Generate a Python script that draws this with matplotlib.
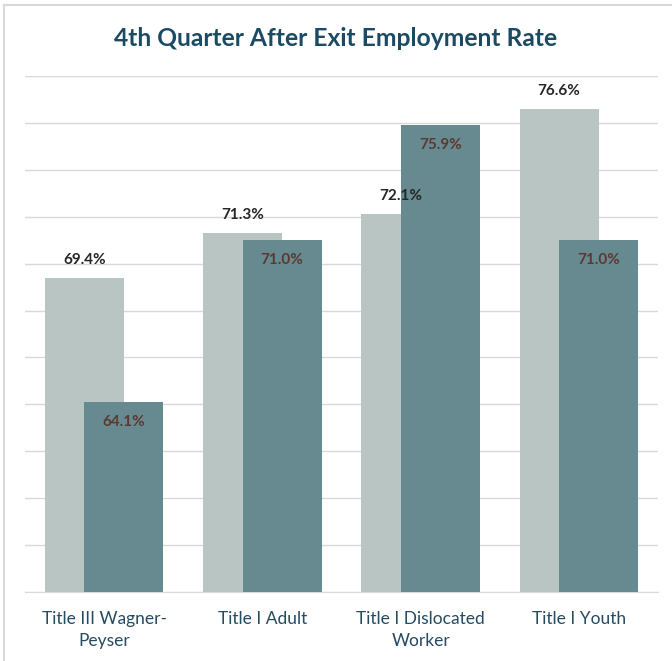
import matplotlib.pyplot as plt
import numpy as np
from matplotlib.lines import Line2D

# Taxas de emprego no 4º trimestre após a saída, por programa
programas = ['Title III Wagner-\nPeyser', 'Title I Adult', 'Title I Dislocated\nWorker', 'Title I Youth']
taxa_clara = [69.4, 71.3, 72.1, 76.6]
taxa_escura = [64.1, 71.0, 75.9, 71.0]

cor_clara = '#B9C5C2'
cor_escura = '#678A91'

plt.rcParams['font.family'] = ['Lato', 'DejaVu Sans']

fig = plt.figure(figsize=(6.72, 6.61), dpi=100)
ax = fig.add_axes([25 / 672, 69 / 661, 633 / 672, 516 / 661])

x = np.arange(len(programas))
barras_claras = ax.bar(x - 0.125, taxa_clara, width=0.5, color=cor_clara, zorder=2)
barras_escuras = ax.bar(x + 0.125, taxa_escura, width=0.5, color=cor_escura, zorder=3)

for b, v in zip(barras_claras, taxa_clara):
    ax.annotate(f'{v:.1f}%', (b.get_x() + b.get_width() / 2, v), xytext=(0, 13),
                textcoords='offset points', ha='center', va='center',
                fontsize=11, fontweight='bold', color='#262626', zorder=4)
for b, v in zip(barras_escuras, taxa_escura):
    ax.annotate(f'{v:.1f}%', (b.get_x() + b.get_width() / 2, v), xytext=(0, -14.5),
                textcoords='offset points', ha='center', va='center',
                fontsize=11, fontweight='bold', color='#5A3A30', zorder=4)

ax.set_xlim(-0.5, 3.5)
ax.set_ylim(56, 78)
ax.set_yticks(np.arange(56, 79, 2))
ax.yaxis.grid(True, color='#D9D9D9', linewidth=1, zorder=0)
ax.tick_params(axis='y', left=False, labelleft=False)
ax.tick_params(axis='x', length=0, pad=14)
ax.set_xticks(x)
ax.set_xticklabels(programas, fontsize=12.5, color='#254B61', linespacing=1.45)
for s in ['top', 'right', 'left']:
    ax.spines[s].set_visible(False)
ax.spines['bottom'].set_color('#D9D9D9')

fig.text(0.5, 1 - 38 / 661, '4th Quarter After Exit Employment Rate', ha='center', va='center',
         fontsize=17.7, fontweight='bold', color='#1B4A64')

# moldura: só as bordas de cima e da esquerda
fig.add_artist(Line2D([4 / 672, 4 / 672], [0, 1 - 5 / 661], transform=fig.transFigure,
                      color='#D9D9D9', linewidth=1.5))
fig.add_artist(Line2D([4 / 672, 1], [1 - 5 / 661, 1 - 5 / 661], transform=fig.transFigure,
                      color='#D9D9D9', linewidth=1.5))

fig.savefig('out.png', dpi=100)
